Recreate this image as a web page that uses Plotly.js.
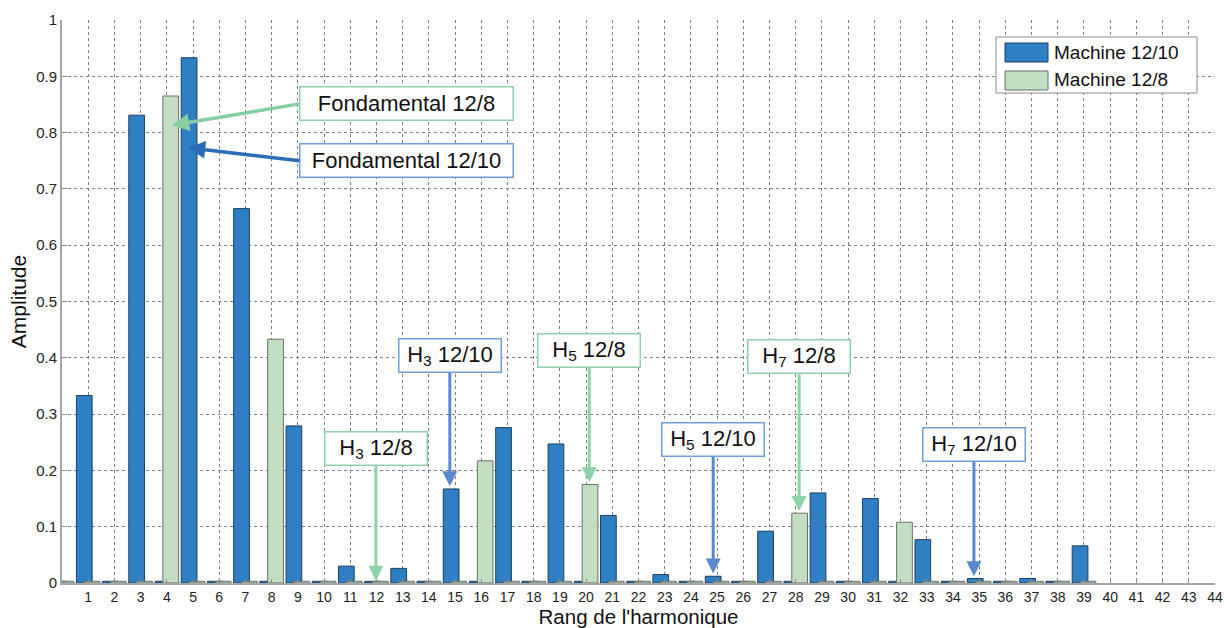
<!DOCTYPE html>
<html>
<head>
<meta charset="utf-8">
<script src="https://cdn.plot.ly/plotly-3.0.1.min.js"></script>
<style>html,body{margin:0;padding:0;background:#fff;}#chart{width:1224px;height:628px;}</style>
</head>
<body>
<div id="chart"></div>
<script>
// Harmonic ranks
const ranks = [0,1,2,3,4,5,6,7,8,9,10,11,12,13,14,15,16,17,18,19,20,21,22,23,24,25,26,27,28,29,30,31,32,33,34,35,36,37,38,39];
// Machine 12/10 amplitudes
const machine1210 = [0.003,0.333,0.003,0.831,0.003,0.933,0.003,0.665,0.003,0.279,0.003,0.030,0.003,0.026,0.003,0.167,0.003,0.276,0.003,0.247,0.003,0.120,0.003,0.015,0.003,0.012,0.003,0.092,0.003,0.160,0.003,0.150,0.003,0.077,0.003,0.008,0.003,0.008,0.003,0.066];
// Machine 12/8 amplitudes
const machine128 = [0.003,0.003,0.003,0.003,0.865,0.003,0.003,0.003,0.433,0.003,0.003,0.003,0.003,0.003,0.003,0.003,0.217,0.003,0.003,0.003,0.175,0.003,0.003,0.003,0.003,0.003,0.003,0.003,0.124,0.003,0.003,0.003,0.108,0.003,0.003,0.003,0.003,0.003,0.003,0.003];
const seriesNames = ["Machine 12/10", "Machine 12/8"];
const xTickVals = [1,2,3,4,5,6,7,8,9,10,11,12,13,14,15,16,17,18,19,20,21,22,23,24,25,26,27,28,29,30,31,32,33,34,35,36,37,38,39,40,41,42,43,44];
const yTickVals = [0,0.1,0.2,0.3,0.4,0.5,0.6,0.7,0.8,0.9,1];
const yTickText = ["0","0.1","0.2","0.3","0.4","0.5","0.6","0.7","0.8","0.9","1"];

// Callout labels: text, arrow tail (= box anchor point), arrow head
const calloutText = ["Fondamental 12/8","Fondamental 12/10","H<sub>3</sub> 12/10","H<sub>5</sub> 12/8","H<sub>3</sub> 12/8","H<sub>5</sub> 12/10","H<sub>7</sub> 12/8","H<sub>7</sub> 12/10"];
const calloutTailX = [9.06,9.06,14.80,20.12,11.98,24.85,28.13,34.80];
const calloutTailY = [0.851,0.750,0.373,0.382,0.208,0.224,0.371,0.215];
const calloutHeadX = [4.19,4.80,14.80,20.12,11.98,24.85,28.13,34.80];
const calloutHeadY = [0.813,0.773,0.172,0.179,0.004,0.017,0.128,0.012];
const calloutKind = ["g","b","b","g","g","b","g","b"];

const FONT = "Liberation Sans, Arial, sans-serif";
const blueFill = "#2f7fc5", blueLine = "#1f3f5f";
const greenFill = "#c4dec4", greenLine = "#65736a";

const traces = [
  {type:"bar", name:seriesNames[0], x:ranks, y:machine1210, width:0.6, offset:-0.45,
   marker:{color:blueFill, line:{color:blueLine, width:1}}, showlegend:false},
  {type:"bar", name:seriesNames[1], x:ranks, y:machine128, width:0.6, offset:-0.15,
   marker:{color:greenFill, line:{color:greenLine, width:1}}, showlegend:false}
];

const annotations = [];
const boxBorder = {g:"#8fd1ab", b:"#6f9fd8"};
const arrowCol = ["#85cfa3","#2a6db5","#5a88cc","#8fd3ab","#8fd3ab","#5a88cc","#8fd3ab","#5a88cc"];
for (let i=0;i<calloutText.length;i++){
  const big = i<2;
  annotations.push({
    xref:"x", yref:"y", x:calloutHeadX[i], y:calloutHeadY[i],
    axref:"x", ayref:"y", ax:calloutTailX[i], ay:calloutTailY[i],
    xanchor: big ? "left" : "center", yanchor: big ? "middle" : "bottom",
    text:calloutText[i], showarrow:true, arrowhead:2, arrowsize:1, arrowwidth: big?3.5:3,
    arrowcolor:arrowCol[i], standoff:0, startstandoff:0,
    font:{family:FONT, size:22, color:"#111"},
    bgcolor:"#ffffff", bordercolor:boxBorder[calloutKind[i]], borderwidth:1.5, borderpad:1,
    width: big?210:99, height:30, align:"center", valign:"middle"
  });
}
// custom legend (paper coordinates computed from pixel positions)
const PL = 62, PR = 1215, PT = 20, PB = 583;
const px = v => (v-PL)/(PR-PL);
const py = v => (PB-v)/(PB-PT);
annotations.push({xref:"paper", yref:"paper", x:px(1052), y:py(52.5), xanchor:"left", yanchor:"middle",
  text:seriesNames[0], showarrow:false, font:{family:FONT, size:19, color:"#111"}});
annotations.push({xref:"paper", yref:"paper", x:px(1052), y:py(80), xanchor:"left", yanchor:"middle",
  text:seriesNames[1], showarrow:false, font:{family:FONT, size:19, color:"#111"}});

const shapes = [
  {type:"rect", xref:"paper", yref:"paper", x0:px(996), x1:px(1197), y0:py(93), y1:py(37),
   fillcolor:"#ffffff", line:{color:"#8a8a8a", width:1}, layer:"above"},
  {type:"rect", xref:"paper", yref:"paper", x0:px(1005), x1:px(1048), y0:py(62), y1:py(43),
   fillcolor:blueFill, line:{color:blueLine, width:1}, layer:"above"},
  {type:"rect", xref:"paper", yref:"paper", x0:px(1005), x1:px(1048), y0:py(90), y1:py(71),
   fillcolor:greenFill, line:{color:greenLine, width:1}, layer:"above"}
];

const layout = {
  width:1224, height:628,
  margin:{l:PL, r:1224-PR, t:PT, b:628-PB},
  paper_bgcolor:"#ffffff", plot_bgcolor:"#ffffff",
  barmode:"overlay",
  font:{family:FONT, size:14, color:"#222"},
  xaxis:{range:[0,44], tickmode:"array", tickvals:xTickVals, ticktext:xTickVals.map(String),
    showgrid:true, gridcolor:"#7f7f7f", griddash:"dot", gridwidth:1,
    showline:true, linecolor:"#a6a6a6", linewidth:2, zeroline:false,
    ticks:"inside", ticklen:4, tickcolor:"#8c8c8c", ticklabeloverflow:"allow",
    tickfont:{family:FONT, size:14, color:"#222"},
    title:{text:"Rang de l'harmonique", font:{family:FONT, size:20.5, color:"#111"}, standoff:5},
    fixedrange:true},
  yaxis:{range:[0,1], tickmode:"array", tickvals:yTickVals, ticktext:yTickText,
    showgrid:true, gridcolor:"#7f7f7f", griddash:"dot", gridwidth:1,
    showline:true, linecolor:"#a6a6a6", linewidth:2, zeroline:false,
    ticks:"inside", ticklen:5, tickcolor:"#8c8c8c",
    tickfont:{family:FONT, size:15, color:"#222"},
    title:{text:"Amplitude", font:{family:FONT, size:21, color:"#111"}, standoff:4},
    fixedrange:true},
  annotations:annotations,
  shapes:shapes,
  showlegend:false
};

Plotly.newPlot("chart", traces, layout, {displayModeBar:false, staticPlot:true});
</script>
</body>
</html>
